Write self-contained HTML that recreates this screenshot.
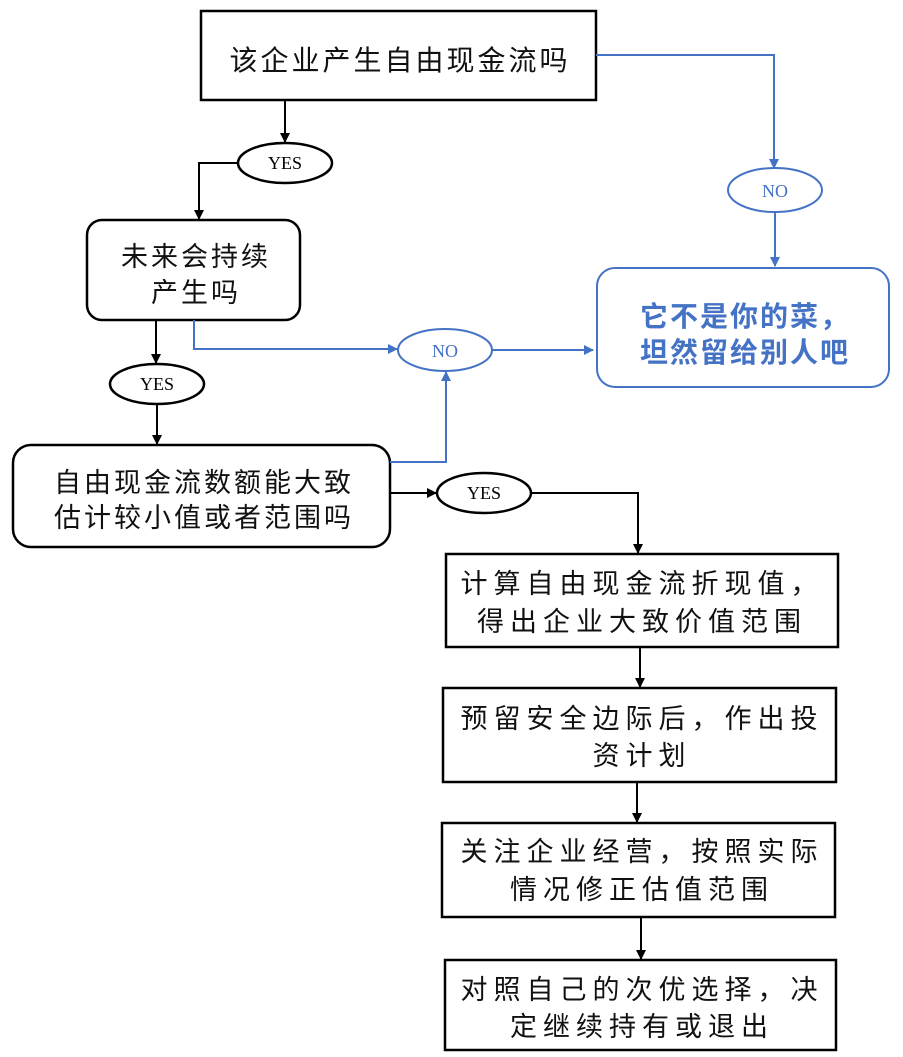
<!DOCTYPE html>
<html><head><meta charset="utf-8"><style>
html,body{margin:0;padding:0;background:#fff;}
svg{display:block;}
text{font-family:"Liberation Serif","Noto Sans CJK SC",serif;}
.c{font-family:"Liberation Sans","Noto Sans CJK SC",sans-serif;font-size:27px;fill:#111;letter-spacing:4px;}
.y{font-family:"Liberation Serif",serif;font-size:18px;}
</style></head><body>
<svg width="903" height="1057" viewBox="0 0 903 1057" xmlns="http://www.w3.org/2000/svg">
<defs>
<marker id="ab" markerWidth="10" markerHeight="10" refX="9" refY="5" orient="auto" markerUnits="userSpaceOnUse"><path d="M0,0 L10,5 L0,10 z" fill="#000"/></marker>
<marker id="au" markerWidth="10" markerHeight="10" refX="9" refY="5" orient="auto" markerUnits="userSpaceOnUse"><path d="M0,0 L10,5 L0,10 z" fill="#4472c4"/></marker>
</defs>
<rect x="201" y="11" width="395" height="89" fill="#fff" stroke="#000" stroke-width="2.5"/>
<rect x="87" y="220" width="213" height="100" rx="15" fill="#fff" stroke="#000" stroke-width="2.5"/>
<rect x="597" y="268" width="292" height="119" rx="18" fill="#fff" stroke="#4472c4" stroke-width="2"/>
<rect x="13" y="445" width="377" height="102" rx="18" fill="#fff" stroke="#000" stroke-width="2.5"/>
<rect x="446" y="554" width="392" height="93" fill="#fff" stroke="#000" stroke-width="2.5"/>
<rect x="443" y="688" width="393" height="94" fill="#fff" stroke="#000" stroke-width="2.5"/>
<rect x="442" y="823" width="393" height="94" fill="#fff" stroke="#000" stroke-width="2.5"/>
<rect x="445" y="960" width="391" height="90" fill="#fff" stroke="#000" stroke-width="2.5"/>
<g stroke="#000" stroke-width="2" fill="none">
<path d="M285,100 V142" marker-end="url(#ab)"/>
<path d="M238,163 H199 V219" marker-end="url(#ab)"/>
<path d="M156,320 V363" marker-end="url(#ab)"/>
<path d="M157,404 V444" marker-end="url(#ab)"/>
<path d="M390,493 H436" marker-end="url(#ab)"/>
<path d="M531,493 H638 V553" marker-end="url(#ab)"/>
<path d="M640,647 V687" marker-end="url(#ab)"/>
<path d="M637,782 V822" marker-end="url(#ab)"/>
<path d="M641,917 V959" marker-end="url(#ab)"/>
</g>
<g stroke="#4472c4" stroke-width="2" fill="none">
<path d="M596,55 H774 V168" marker-end="url(#au)"/>
<path d="M775,212 V266" marker-end="url(#au)"/>
<path d="M194,320 V349 H397" marker-end="url(#au)"/>
<path d="M492,350 H593" marker-end="url(#au)"/>
<path d="M390,462 H446 V372" marker-end="url(#au)"/>
</g>
<ellipse cx="285" cy="163" rx="47" ry="20" fill="#fff" stroke="#000" stroke-width="2.5"/>
<ellipse cx="157" cy="384" rx="47" ry="20" fill="#fff" stroke="#000" stroke-width="2.5"/>
<ellipse cx="484" cy="493" rx="47" ry="20" fill="#fff" stroke="#000" stroke-width="2.5"/>
<ellipse cx="775" cy="190" rx="47" ry="22" fill="#fff" stroke="#4472c4" stroke-width="2"/>
<ellipse cx="445" cy="350" rx="47" ry="21" fill="#fff" stroke="#4472c4" stroke-width="2"/>
<text class="y" x="285" y="169" text-anchor="middle">YES</text>
<text class="y" x="157" y="390" text-anchor="middle">YES</text>
<text class="y" x="484" y="499" text-anchor="middle">YES</text>
<text class="y" x="775" y="197" text-anchor="middle" fill="#4472c4">NO</text>
<text class="y" x="445" y="357" text-anchor="middle" fill="#4472c4">NO</text>
<g class="c" text-anchor="middle" style="letter-spacing:3px;font-size:28px">
<text x="400" y="70">该企业产生自由现金流吗</text>
</g>
<g class="c" text-anchor="middle" style="letter-spacing:3px;font-size:27px">
<text x="196" y="266">未来会持续</text>
<text x="196" y="302">产生吗</text>
<text x="204" y="492">自由现金流数额能大致</text>
<text x="204" y="527">估计较小值或者范围吗</text>
</g>
<g text-anchor="middle" style="font-family:'Liberation Sans','Noto Sans CJK SC',sans-serif;font-size:28px;font-weight:bold;fill:#4472c4;letter-spacing:2px">
<text x="745" y="326">它不是你的菜，</text>
<text x="745" y="362">坦然留给别人吧</text>
</g>
<g class="c" text-anchor="middle" style="letter-spacing:6px">
<text x="642" y="593">计算自由现金流折现值，</text>
<text x="642" y="631">得出企业大致价值范围</text>
<text x="642" y="728">预留安全边际后，作出投</text>
<text x="642" y="765">资计划</text>
<text x="642" y="861">关注企业经营，按照实际</text>
<text x="642" y="899">情况修正估值范围</text>
<text x="642" y="999">对照自己的次优选择，决</text>
<text x="642" y="1036">定继续持有或退出</text>
</g>
</svg>
</body></html>
